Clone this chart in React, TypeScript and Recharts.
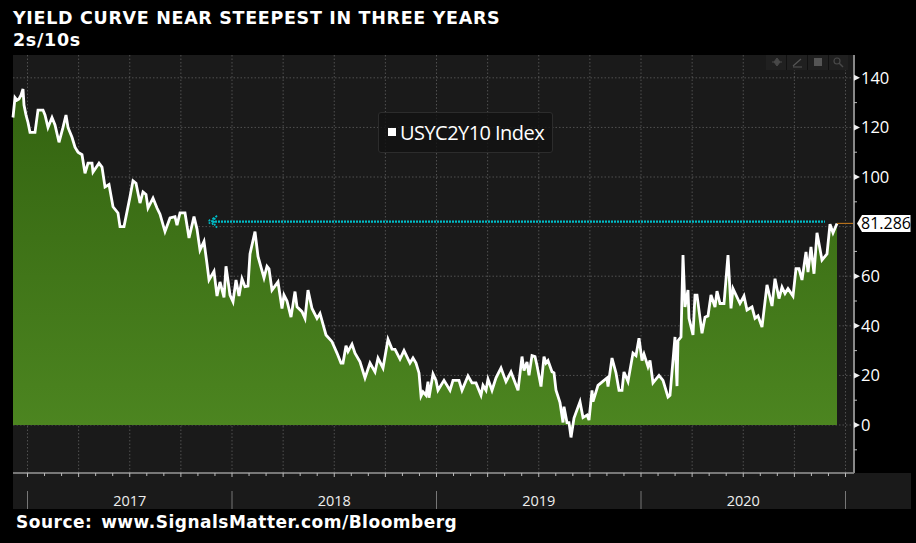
import {
  Area,
  CartesianGrid,
  ComposedChart,
  ReferenceDot,
  ReferenceLine,
  XAxis,
  YAxis,
} from "recharts";

// x is the observation number on the Bloomberg chart, about 204.5 per year
const sessions = [
  0, 2, 4, 6, 8, 10, 11, 13, 15, 17, 20, 22, 25, 30, 32, 35, 39, 42, 46, 50, 53, 55, 59, 62, 65, 69, 72, 75, 79, 80,
  86, 89, 92, 96, 100, 105, 107, 111, 117, 120, 123, 127, 130, 133, 135, 140, 144, 147, 152, 157, 162, 164, 167, 172,
  176, 181, 184, 187, 191, 194, 196, 201, 204, 207, 211, 213, 217, 220, 223, 226, 229, 232, 235, 237, 242, 245, 251,
  254, 256, 259, 265, 269, 271, 274, 278, 282, 284, 289, 292, 295, 299, 304, 307, 313, 319, 324, 328, 330, 333, 335,
  339, 342, 347, 352, 357, 362, 365, 370, 375, 379, 382, 387, 391, 397, 400, 403, 406, 408, 410, 413, 415, 416, 420,
  423, 425, 431, 437, 440, 446, 449, 455, 459, 463, 468, 470, 473, 475, 479, 483, 488, 493, 498, 505, 509, 511, 514,
  516, 519, 522, 524, 528, 531, 533, 535, 539, 541, 543, 547, 550, 551, 554, 556, 558, 561, 567, 570, 574, 576, 579,
  580, 585, 594, 595, 599, 603, 606, 609, 611, 615, 620, 623, 626, 629, 631, 635, 637, 640, 646, 650, 655, 657, 662,
  664, 665, 668, 670, 672, 675, 676, 680, 682, 684, 689, 692, 695, 698, 702, 704, 707, 711, 715, 718, 720, 727, 731,
  734, 739, 742, 745, 749, 754, 759, 762, 766, 769, 772, 775, 780, 783, 786, 789, 793, 795, 798, 801, 804, 809, 814,
  817, 820, 824,
];

const spread = [
  124, 132, 131, 131.5, 133, 135.5, 129, 125, 122, 118, 118, 118, 127, 127, 125, 120, 124, 121, 114, 120, 125, 120,
  116, 112, 110, 109, 101.5, 105.6, 105.6, 102, 105.6, 104, 96, 97, 88, 85.5, 80, 80, 92, 98.5, 97.5, 89.5, 94, 93,
  87.5, 91.5, 87.5, 85, 78, 83.5, 84, 80.6, 85.5, 85.5, 75.4, 84, 79, 70.5, 74, 65, 58.5, 62, 52, 57.7, 51.5, 64, 52.4,
  49.7, 58.5, 52, 59, 55.8, 56, 69, 78, 68, 59.3, 64, 63, 54.4, 57.7, 47, 52.4, 50, 43.5, 53.8, 47.7, 45.7, 43, 54.4,
  47, 43, 45, 36.3, 33.6, 29, 25, 25, 32, 29.6, 32.6, 29, 25.5, 19, 25, 21.4, 27, 23, 34.6, 30.6, 30.5, 26.6, 30,
  25, 27, 25, 21, 11.7, 13.4, 12, 17.5, 11, 20.6, 18, 14, 18, 14, 18, 18, 14, 19.8, 17, 17, 12, 16, 14, 18.5, 14, 19,
  23, 17.5, 21.4, 14, 27.6, 22, 25.4, 20, 28, 27.6, 24, 15.5, 27.6, 25, 26, 21.5, 21, 14, 9, 1, 7.4, 1, 1, -5, 2.8,
  9.4, 3, 4, 2, 14, 9.4, 16, 19, 15.5, 27, 21, 14, 14, 21.4, 17.5, 29, 28, 35, 26, 28.6, 23.5, 26, 17, 20, 18, 11.3,
  12, 35.5, 15.7, 34, 35.5, 68.5, 47.6, 54.4, 43, 36.3, 52.4, 52.4, 37, 43.5, 44, 52.4, 47.6, 54, 49, 49, 68.5, 47, 55,
  49, 52, 46.4, 47.6, 43, 44, 39.5, 56.5, 48, 59, 51, 55.6, 53, 55, 52, 63, 63, 58.5, 69.8, 61.7, 71.8, 61, 77.5, 66.5,
  69, 81, 77.5, 81.286,
];

const years = ["2017", "2018", "2019", "2020"];
// 80 sits behind the last-value flag on the reference, so it gets no tick
const yTicks = [140, 130, 120, 110, 100, 90, 70, 60, 50, 40, 30, 20, 10, 0, -10];
const gridValues = [140, 120, 100, 80, 60, 40, 20, 0];
const lastValue = 81.286;
const markerLevel = 82;

const firstYearAt = 14.5;
const perMonth = 204.5 / 12;
const monthTicks = Array.from({ length: 49 }, (_, i) => firstYearAt + i * perMonth);
const quarterTicks = monthTicks.filter((_, i) => i % 3 === 0);

const chartData = sessions.map((s, i) => ({ s, v: spread[i] }));

const UI_FONT = '"Open Sans", "Noto Sans", sans-serif';
const HEAD_FONT = '"DejaVu Sans", sans-serif';

function YTick({ x, y, payload }: any) {
  const major = payload.value % 20 === 0;
  if (!major) {
    return <line x1={x} x2={x + 3} y1={y} y2={y} stroke="#bbb" strokeWidth={1} />;
  }
  return (
    <g>
      <path d={`M${x} ${y - 3}L${x + 6} ${y}L${x} ${y + 3}Z`} fill="#eee" />
      <text x={x + 7} y={y + 6} fill="#fff" fontSize={16.5} fontFamily={UI_FONT}>
        {payload.value}
      </text>
    </g>
  );
}

function XTick({ x, y, index }: any) {
  const yearIdx = Math.floor(index / 12);
  return (
    <g>
      <line x1={x} x2={x} y1={y} y2={y + (index % 3 === 0 ? 4 : 3)} stroke="#bbb" strokeWidth={1} />
      {index % 12 === 0 && <line x1={x} x2={x} y1={y + 18} y2={y + 36} stroke="#777" strokeWidth={1} />}
      {index % 12 === 6 && (
        <text x={x} y={y + 33} fill="#eee" fontSize={14.5} fontFamily={UI_FONT} textAnchor="middle">
          {years[yearIdx]}
        </text>
      )}
    </g>
  );
}

function ArrowHead({ cx, cy }: any) {
  const arc = (dx: number, r: number) =>
    `M${cx + dx + r * 0.5} ${cy - r}Q${cx + dx - r * 0.5} ${cy} ${cx + dx + r * 0.5} ${cy + r}`;
  return (
    <g fill="none" stroke="#00bcc6" strokeWidth={1.8} strokeDasharray="2 1">
      <path d={arc(-1, 2)} />
      <path d={arc(2, 4)} />
      <path d={arc(4, 6)} />
    </g>
  );
}

function LastLabel({ cx, cy }: any) {
  return (
    <g>
      <path
        d={`M${cx + 3} ${cy}L${cx + 8} ${cy - 8.5}H${cx + 56.5}V${cy + 8.5}H${cx + 8}Z`}
        fill="#fff"
      />
      <text x={cx + 7} y={cy + 6} fill="#000" fontSize={16} fontFamily={UI_FONT}>
        {lastValue}
      </text>
    </g>
  );
}

function ToolIcons() {
  return (
    <svg width={82} height={15} style={{ position: "absolute", left: 766, top: 55 }}>
      <rect width={82} height={15} fill="#202020" />
      <g stroke="#111" strokeWidth={1}>
        <line x1={20.5} x2={20.5} y1={0} y2={15} />
        <line x1={41.5} x2={41.5} y1={0} y2={15} />
        <line x1={62.5} x2={62.5} y1={0} y2={15} />
      </g>
      <path d="M11 3L14 7L11 11L8 7ZM6 7H16" fill="#484848" stroke="#484848" />
      <path d="M27 11L35 4M27 12H36" fill="none" stroke="#555" strokeWidth={1.2} />
      <rect x={48} y={3} width={8} height={8} fill="#555" />
      <circle cx={71} cy={6} r={3} fill="none" stroke="#484848" strokeWidth={1.2} />
      <line x1={73} y1={8} x2={77} y2={12} stroke="#484848" strokeWidth={1.5} />
    </svg>
  );
}

export default function App() {
  return (
    <div
      style={{
        position: "absolute",
        left: 0,
        top: 0,
        width: 916,
        height: 543,
        background: "#000",
        overflow: "hidden",
      }}
    >
      <div style={{ position: "absolute", left: 13, top: 55, width: 841, height: 418, background: "#1a1a1a" }} />
      <div style={{ position: "absolute", left: 13, top: 473, width: 898, height: 36, background: "#1a1a1a" }} />

      <div
        style={{
          position: "absolute",
          left: 13,
          top: 7,
          color: "#fff",
          fontFamily: HEAD_FONT,
          fontWeight: 700,
          fontSize: 17.5,
          lineHeight: "22px",
          letterSpacing: 0.68,
          whiteSpace: "nowrap",
        }}
      >
        <div>YIELD CURVE NEAR STEEPEST IN THREE YEARS</div>
        <div>2s/10s</div>
      </div>

      <div style={{ position: "absolute", left: 0, top: 0 }}>
        <ComposedChart
          width={916}
          height={543}
          data={chartData}
          margin={{ top: 55, right: 0, bottom: 0, left: 13 }}
        >
          <defs>
            <linearGradient id="areaFill" gradientUnits="userSpaceOnUse" x1={0} y1={90} x2={0} y2={425}>
              <stop offset="0%" stopColor="#336310" />
              <stop offset="100%" stopColor="#4c8520" />
            </linearGradient>
          </defs>
          <XAxis
            type="number"
            dataKey="s"
            domain={[0, 841]}
            ticks={monthTicks}
            interval={0}
            height={70}
            tick={<XTick />}
            tickLine={false}
            tickSize={0}
            tickMargin={0}
            axisLine={{ stroke: "#999", strokeWidth: 1.5 }}
          />
          <YAxis
            orientation="right"
            type="number"
            domain={[-19.35, 149.2]}
            ticks={yTicks}
            interval={0}
            width={62}
            tick={<YTick />}
            tickLine={false}
            tickSize={0}
            tickMargin={0}
            axisLine={{ stroke: "#888", strokeWidth: 2 }}
          />
          <Area
            type="linear"
            dataKey="v"
            baseValue={0}
            stroke="#fff"
            strokeWidth={2.8}
            fill="url(#areaFill)"
            fillOpacity={1}
            dot={false}
            activeDot={false}
            isAnimationActive={false}
          />
          <CartesianGrid
            stroke="rgba(255,255,255,0.24)"
            strokeDasharray="1.5 2"
            horizontalValues={gridValues}
            verticalValues={quarterTicks}
          />
          <ReferenceLine
            segment={[
              { x: 199, y: markerLevel },
              { x: 812, y: markerLevel },
            ]}
            stroke="#00bcc6"
            strokeWidth={2.4}
            strokeDasharray="2 1"
          />
          <ReferenceDot x={197} y={markerLevel} r={0} shape={<ArrowHead />} />
          <ReferenceLine
            segment={[
              { x: 824, y: lastValue },
              { x: 841, y: lastValue },
            ]}
            stroke="#b5701c"
            strokeWidth={1.2}
          />
          <ReferenceDot x={841} y={lastValue} r={0} shape={<LastLabel />} />
        </ComposedChart>
      </div>

      <div
        style={{
          position: "absolute",
          left: 378,
          top: 112,
          width: 175,
          height: 41,
          boxSizing: "border-box",
          background: "rgba(18,18,18,0.8)",
          border: "1px solid #2c2c2c",
          borderRadius: 3,
          color: "#fff",
          fontFamily: UI_FONT,
          fontSize: 20,
          lineHeight: "40px",
          letterSpacing: -0.55,
          whiteSpace: "nowrap",
        }}
      >
        <span
          style={{
            position: "absolute",
            left: 9,
            top: 15,
            width: 8,
            height: 8,
            background: "#fff",
          }}
        />
        <span style={{ position: "absolute", left: 21, top: 0 }}>USYC2Y10 Index</span>
      </div>

      <ToolIcons />

      <div
        style={{
          position: "absolute",
          left: 16,
          top: 511,
          color: "#fff",
          fontFamily: HEAD_FONT,
          fontWeight: 700,
          fontSize: 17,
          lineHeight: "22px",
          letterSpacing: 0.5,
          wordSpacing: -2,
          whiteSpace: "pre",
        }}
      >
        {"Source:  www.SignalsMatter.com/Bloomberg"}
      </div>
    </div>
  );
}
